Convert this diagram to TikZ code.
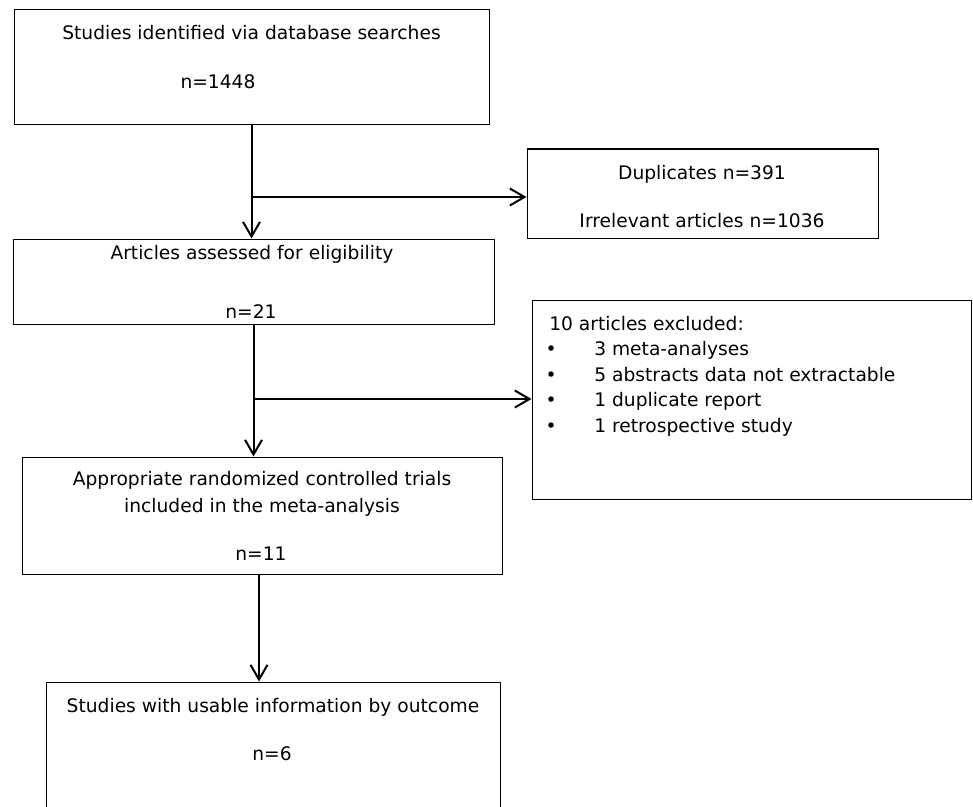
\documentclass[tikz,border=0pt]{standalone}
\usepackage{fontspec}
\setmainfont{DejaVu Sans}
\usepackage{tikz}
\usetikzlibrary{arrows.meta}

\begin{document}
\begin{tikzpicture}[x=0.75pt,y=-0.75pt,
        box/.style={draw, line width=0.75pt, inner sep=0pt},
        txt/.style={inner sep=0pt, anchor=base},
        flow/.style={line width=1.5pt, -{Straight Barb[length=11pt,width=12.75pt,line width=1.5pt]}},
        font=\fontsize{14}{16}\selectfont]

        \def \px {0.75pt}

        \useasboundingbox (0,0) rectangle (973,806);

        % Draw boxes
        \node[box, minimum width={475*\px}, minimum height={115*\px}] (search) at (251.5, 67.5) {};
        \node[box, minimum width={351*\px}, minimum height={89*\px}] (dupl) at (702.5, 193.5) {};
        \node[box, minimum width={481*\px}, minimum height={85*\px}] (assess) at (253.5, 281.5) {};
        \node[box, minimum width={439*\px}, minimum height={199*\px}] (excl) at (751.5, 399.5) {};
        \node[box, minimum width={480*\px}, minimum height={117*\px}] (rct) at (262, 515.5) {};
        \node[box, minimum width={454*\px}, minimum height={160*\px}] (usable) at (273, 762) {};

        % Box texts
        \node[txt] (search-a) at (251.5, 40) {Studies identified via database searches};
        \node[txt] (search-b) at (218, 89) {n=1448};
        \node[txt] (dupl-a) at (702, 179) {Duplicates n=391};
        \node[txt] (dupl-b) at (702, 227) {Irrelevant articles n=1036};
        \node[txt] (assess-a) at (252, 259) {Articles assessed for eligibility};
        \node[txt] (assess-b) at (251, 318) {n=21};
        \node[txt] (rct-a) at (262, 485) {Appropriate randomized controlled trials};
        \node[txt] (rct-b) at (262, 512) {included in the meta-analysis};
        \node[txt] (rct-c) at (261, 560) {n=11};
        \node[txt] (usable-a) at (273, 712) {Studies with usable information by outcome};
        \node[txt] (usable-b) at (272, 760) {n=6};

        % Exclusion list
        \node[txt, anchor=base west] (excl-head) at (549, 330) {10 articles excluded:};
        \foreach \i/\reason in {1/3 meta-analyses, 2/5 abstracts data not extractable,
                                3/1 duplicate report, 4/1 retrospective study} {
            \def \y {330 + 25.5 * \i}
            \node[txt] (dot-\i) at (551, {\y}) {•};
            \node[txt, anchor=base west] (reason-\i) at (594, {\y}) {\reason};
        }

        % Draw connectors
        \coordinate (split-1) at (252, 197);
        \coordinate (split-2) at (254, 399);
        \draw[flow] (search.south) -- (search.south |- assess.north);
        \draw[flow] (split-1) -- (split-1 -| dupl.west);
        \draw[flow] (assess.south) -- (assess.south |- rct.north);
        \draw[flow] (split-2) -- (split-2 -| excl.west);
        \draw[flow] (259, 574) coordinate (rct-out) -- (rct-out |- usable.north);

\end{tikzpicture}
\end{document}
